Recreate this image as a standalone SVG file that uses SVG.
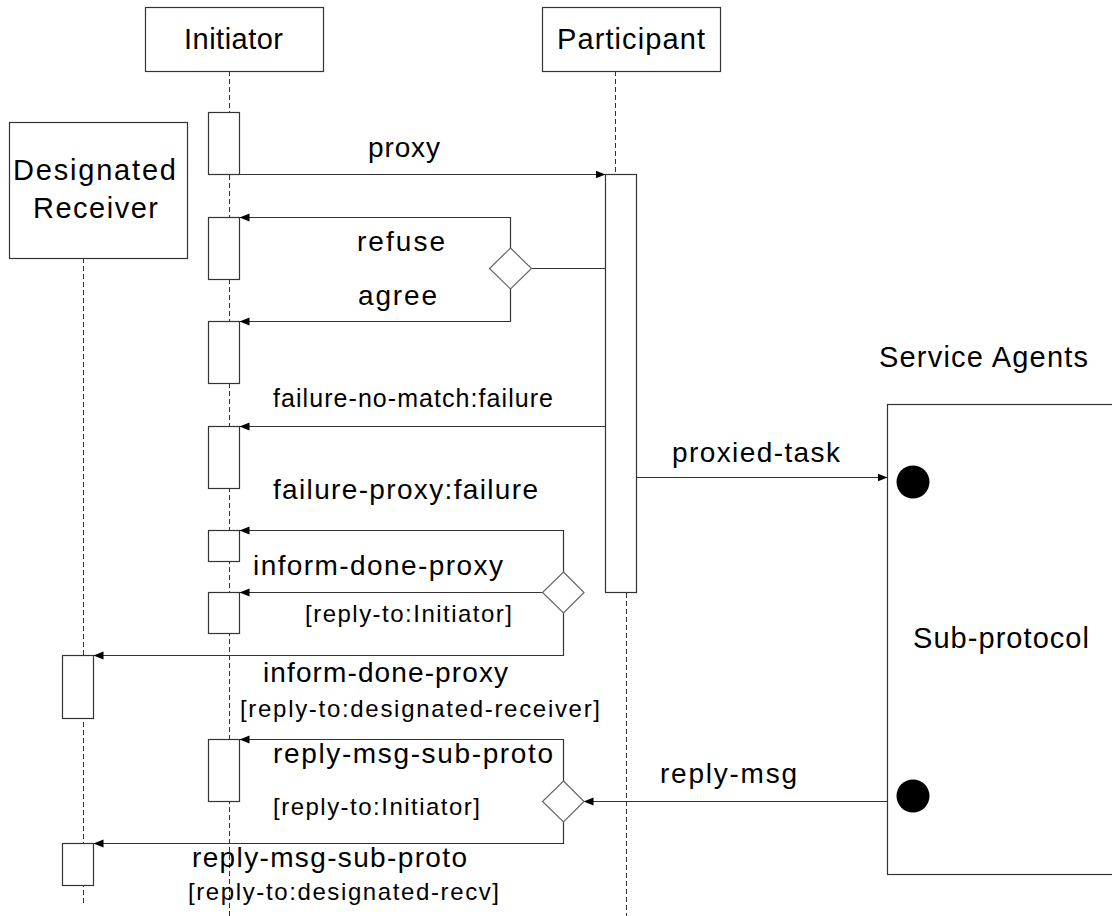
<svg xmlns="http://www.w3.org/2000/svg" width="1112" height="916" viewBox="0 0 1112 916">
<style>
  text { font-family: "Liberation Sans", Arial, sans-serif; fill: #000; }
  .hd { font-size: 29px; }
  .msg { font-size: 28px; }
  .fm { font-size: 25px; }
  .sm { font-size: 24px; }
  .box { fill: #fff; stroke: #333; stroke-width: 1.2; }
  .life { fill: none; stroke: #333; stroke-width: 1; stroke-dasharray: 5 3; }
  .ln { fill: none; stroke: #333; stroke-width: 1.2; }
  .arr { fill: none; stroke: #333; stroke-width: 1.2; marker-end: url(#ah); }
  .dia { fill: #fff; stroke: #666; stroke-width: 1.2; }
</style>
<defs>
  <marker id="ah" markerUnits="userSpaceOnUse" markerWidth="11" markerHeight="10" refX="10" refY="5" orient="auto">
    <path d="M0,1 L10,5 L0,9 z" fill="#000"/>
  </marker>
</defs>
<rect width="1112" height="916" fill="#fff"/>

<g id="lifelines">
  <line class="life" x1="229.5" y1="71" x2="229.5" y2="916"/>
  <line class="life" x1="615.5" y1="71" x2="615.5" y2="174"/>
  <line class="life" x1="626.5" y1="593" x2="626.5" y2="916"/>
  <line class="life" x1="83.5" y1="258" x2="83.5" y2="906"/>
</g>

<g id="initiator">
  <rect class="box" x="145.5" y="7.5" width="178" height="64"/>
  <text class="hd" x="184" y="49" textLength="99" lengthAdjust="spacing">Initiator</text>
</g>
<g id="participant">
  <rect class="box" x="542.5" y="7.5" width="178" height="64"/>
  <text class="hd" x="557" y="49" textLength="148" lengthAdjust="spacing">Participant</text>
</g>
<g id="designated-receiver">
  <rect class="box" x="9.5" y="122.5" width="178" height="136"/>
  <text class="hd" x="13" y="180" textLength="163" lengthAdjust="spacing">Designated</text>
  <text class="hd" x="33" y="218" textLength="125" lengthAdjust="spacing">Receiver</text>
</g>
<g id="service-agents">
  <text class="hd" x="879" y="367" textLength="209" lengthAdjust="spacing">Service Agents</text>
  <rect class="box" x="887.5" y="404.5" width="240" height="470"/>
  <circle cx="913" cy="482" r="16.5" fill="#000"/>
  <circle cx="913" cy="796" r="16.5" fill="#000"/>
  <text class="hd" x="913" y="648" textLength="176" lengthAdjust="spacing">Sub-protocol</text>
</g>

<g id="activations">
  <rect class="box" x="208.5" y="112.5" width="31" height="62"/>
  <rect class="box" x="208.5" y="217.5" width="31" height="62"/>
  <rect class="box" x="208.5" y="321.5" width="31" height="62"/>
  <rect class="box" x="208.5" y="426.5" width="31" height="62"/>
  <rect class="box" x="208.5" y="530.5" width="31" height="31"/>
  <rect class="box" x="208.5" y="592.5" width="31" height="41"/>
  <rect class="box" x="208.5" y="739.5" width="31" height="62"/>
  <rect class="box" x="62.5" y="655.5" width="31" height="63"/>
  <rect class="box" x="62.5" y="843.5" width="31" height="42"/>
  <rect class="box" x="605.5" y="174.5" width="31" height="418"/>
</g>

<g id="connectors">
  <path class="arr" d="M239.5,174.5 H605.5"/>
  <path class="ln" d="M605.5,268.5 H531"/>
  <path class="arr" d="M510.5,248 V217.5 H239.5"/>
  <path class="arr" d="M510.5,289 V321.5 H239.5"/>
  <path class="arr" d="M605.5,426.5 H239.5"/>
  <path class="arr" d="M636.5,477.5 H887.5"/>
  <path class="arr" d="M563.5,572 V530.5 H239.5"/>
  <path class="arr" d="M542,592.5 H239.5"/>
  <path class="arr" d="M563.5,613 V655.5 H93.5"/>
  <path class="arr" d="M887.5,801.5 H583.5"/>
  <path class="arr" d="M563.5,781 V739.5 H239.5"/>
  <path class="arr" d="M563.5,822 V843.5 H93.5"/>
  <polygon id="decision-1" class="dia" points="510.5,248 531.5,268.5 510.5,289 489.5,268.5"/>
  <polygon id="decision-2" class="dia" points="563.5,572 584,592.5 563.5,613 542.5,592.5"/>
  <polygon id="decision-3" class="dia" points="563.5,781 584,801.5 563.5,822 542.5,801.5"/>
</g>

<g id="labels">
  <text class="msg" x="368" y="157" textLength="72" lengthAdjust="spacing">proxy</text>
  <text class="msg" x="357" y="251" textLength="88" lengthAdjust="spacing">refuse</text>
  <text class="msg" x="358" y="305" textLength="79" lengthAdjust="spacing">agree</text>
  <text class="fm" x="273" y="407" textLength="280" lengthAdjust="spacing">failure-no-match:failure</text>
  <text class="msg" x="672" y="462" textLength="168" lengthAdjust="spacing">proxied-task</text>
  <text class="msg" x="273" y="499" textLength="265" lengthAdjust="spacing">failure-proxy:failure</text>
  <text class="msg" x="253" y="575" textLength="250" lengthAdjust="spacing">inform-done-proxy</text>
  <text class="sm" x="305" y="622" textLength="207" lengthAdjust="spacing">[reply-to:Initiator]</text>
  <text class="msg" x="263" y="682" textLength="245" lengthAdjust="spacing">inform-done-proxy</text>
  <text class="sm" x="240" y="717" textLength="360" lengthAdjust="spacing">[reply-to:designated-receiver]</text>
  <text class="msg" x="273" y="763" textLength="280" lengthAdjust="spacing">reply-msg-sub-proto</text>
  <text class="msg" x="660" y="783" textLength="137" lengthAdjust="spacing">reply-msg</text>
  <text class="sm" x="273" y="815" textLength="207" lengthAdjust="spacing">[reply-to:Initiator]</text>
  <text class="msg" x="192" y="867" textLength="275" lengthAdjust="spacing">reply-msg-sub-proto</text>
  <text class="sm" x="188" y="900" textLength="311" lengthAdjust="spacing">[reply-to:designated-recv]</text>
</g>
</svg>
